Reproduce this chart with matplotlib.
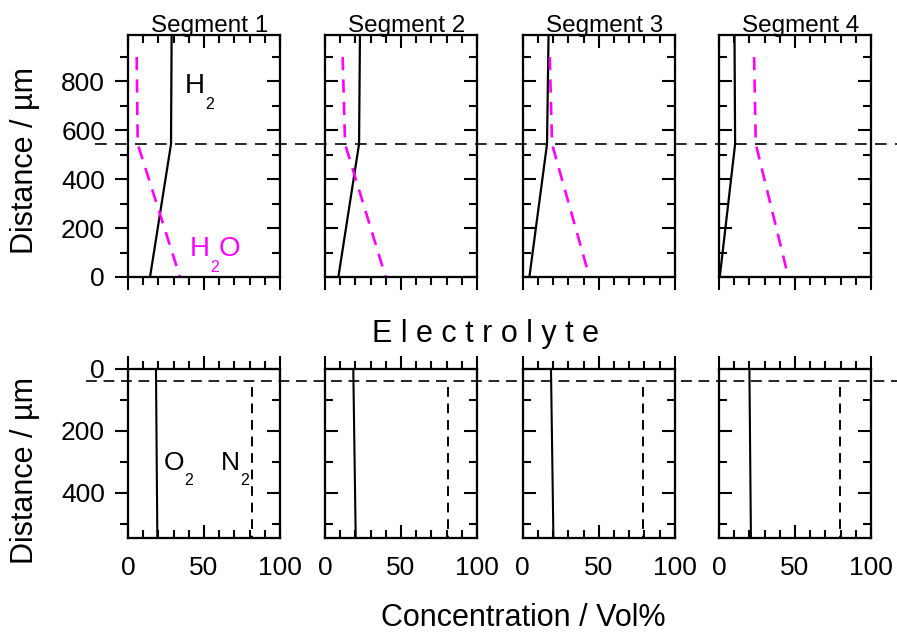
import matplotlib
matplotlib.use("Agg")
import matplotlib.pyplot as plt
from matplotlib.ticker import MultipleLocator, NullFormatter, FixedLocator
from matplotlib import transforms
from matplotlib.lines import Line2D

plt.rcParams['font.family'] = ['Liberation Sans', 'DejaVu Sans']

# ---------------- data ----------------
segments = ["Segment 1", "Segment 2", "Segment 3", "Segment 4"]

# gas diffusion electrode (top row), distance in um (listed from top to bottom)
h2_depth = [990, 544, 0]
h2_conc = [
    [28.7, 28.3, 14.5],
    [23.0, 22.4, 8.8],
    [17.0, 16.0, 4.4],
    [10.2, 10.6, 0.5],
]
h2o_depth = [900, 544, 0]
h2o_conc = [
    [5.7, 6.4, 34.2],
    [11.6, 13.2, 39.9],
    [17.8, 19.3, 43.9],
    [23.1, 24.2, 45.6],
]
gde_interface = 544

# electrolyte side (bottom row), distance in um
o2_depth = [0, 545]
o2_conc = [
    [18.4, 19.3],
    [18.6, 20.2],
    [18.6, 20.2],
    [20.0, 21.0],
]
n2_depth = [58, 545]
n2_conc = [81.4, 80.7, 79.4, 79.8]
ele_interface = 40

x_ticks_major = [0, 50, 100]

# ---------------- layout ----------------
W, H = 897, 632
fig = plt.figure(figsize=(W / 100, H / 100), dpi=100)

lefts = [128, 325, 522.7, 719]
pw = 152
top_y0, top_y1 = 35, 277
bot_y0, bot_y1 = 368.5, 537.7

TICK_FS = 19
LABEL_FS = 22
MAJ, MIN = 9.5, 5.5
TW = 1.5
SPW = 1.5


def px_rect(x0, y0, x1, y1):
    return [x0 / W, 1 - y1 / H, (x1 - x0) / W, (y1 - y0) / H]


def set_locators(axis, major, minor):
    axis.set_major_locator(MultipleLocator(major))
    axis.set_minor_locator(MultipleLocator(minor))


def style_axes(ax, first, top_row, xlim, ylim):
    for s in ax.spines.values():
        s.set_linewidth(SPW)
    ax.set_xlim(*xlim)
    ax.set_ylim(*ylim)
    set_locators(ax.xaxis, 50, 10)
    set_locators(ax.yaxis, 200, 100)

    # top x-axis via twin
    tx = ax.twiny()
    tx.set_xlim(*xlim)
    set_locators(tx.xaxis, 50, 10)
    tx.xaxis.set_major_formatter(NullFormatter())
    # right y-axis via twin
    ty = ax.twinx()
    ty.set_ylim(*ylim)
    set_locators(ty.yaxis, 200, 100)
    ty.yaxis.set_major_formatter(NullFormatter())
    for t in (tx, ty):
        for s in t.spines.values():
            s.set_linewidth(SPW)

    bottom_dir = 'out' if top_row else 'in'
    top_dir = 'in' if top_row else 'out'
    ax.tick_params(axis='x', which='both', bottom=True, top=False, direction=bottom_dir,
                   width=TW, labelbottom=not top_row, labelsize=TICK_FS, pad=13.5)
    tx.tick_params(axis='x', which='both', top=True, bottom=False, direction=top_dir,
                   width=TW, labeltop=False)
    ax.tick_params(axis='y', which='both', left=True, right=False,
                   direction='out' if first else 'in', width=TW, labelleft=first,
                   labelsize=TICK_FS, pad=7)
    ty.tick_params(axis='y', which='both', right=True, left=False, direction='in',
                   width=TW, labelright=False)
    for a in (ax, tx, ty):
        a.tick_params(which='major', length=MAJ)
        a.tick_params(which='minor', length=MIN)
    return tx, ty


def chem_label(ax, x, y, parts, fs, sub_fs, color, sub_drop):
    """parts: list of (text, is_sub)."""
    first_txt, _ = parts[0]
    t = ax.text(x, y, first_txt, fontsize=fs, color=color, va='baseline', ha='left',
                zorder=5)
    prev = t
    for txt, is_sub in parts[1:]:
        if is_sub:
            prev = ax.annotate(txt, xy=(1, 0), xycoords=prev, xytext=(0.3, -sub_drop),
                               textcoords='offset points', fontsize=sub_fs, color=color,
                               va='bottom', ha='left')
        else:
            prev = ax.annotate(txt, xy=(1, 0), xycoords=prev, xytext=(0, sub_drop),
                               textcoords='offset points', fontsize=fs, color=color,
                               va='bottom', ha='left')
    return t


top_axes, bot_axes = [], []
for i in range(4):
    axt = fig.add_axes(px_rect(lefts[i], top_y0, lefts[i] + pw, top_y1))
    style_axes(axt, i == 0, True, (0, 100), (0, 990))
    axt.plot(h2_conc[i], h2_depth, color='black', lw=1.6, solid_joinstyle='round')
    axt.plot(h2o_conc[i], h2o_depth, color='#ff00ff', lw=1.9, dashes=(5, 3.5))
    axt.text(0.54, 1.012, segments[i], transform=axt.transAxes, ha='center',
             va='baseline', fontsize=17.5, zorder=10)
    top_axes.append(axt)

    axb = fig.add_axes(px_rect(lefts[i], bot_y0, lefts[i] + pw, bot_y1))
    style_axes(axb, i == 0, False, (0, 100), (545, 0))
    axb.xaxis.set_major_locator(FixedLocator(x_ticks_major))
    axb.set_xticklabels([str(v) for v in x_ticks_major])
    axb.plot(o2_conc[i], o2_depth, color='black', lw=1.5)
    axb.plot([n2_conc[i]] * 2, n2_depth, color='black', lw=1.4, dashes=(5, 3.5))
    bot_axes.append(axb)

# species labels
chem_label(top_axes[0], 37.5, 753, [("H", False), ("2", True)], 20, 11.5, 'black', 9.5)
chem_label(top_axes[0], 40.5, 87, [("H", False), ("2", True), ("O", False)], 20, 11.5,
           '#ff00ff', 9.5)
chem_label(bot_axes[0], 23.2, 327, [("O", False), ("2", True)], 19, 11.5, 'black', 9)
chem_label(bot_axes[0], 61.2, 327, [("N", False), ("2", True)], 19, 11.5, 'black', 9)

# horizontal interface lines across the figure
tr_top = transforms.blended_transform_factory(fig.transFigure, top_axes[0].transData)
fig.add_artist(Line2D([95 / W, 1.0], [gde_interface, gde_interface], transform=tr_top,
                      color='black', lw=1.2, dashes=(7, 5)))
tr_bot = transforms.blended_transform_factory(fig.transFigure, bot_axes[0].transData)
fig.add_artist(Line2D([86 / W, 1.0], [ele_interface, ele_interface], transform=tr_bot,
                      color='black', lw=1.2, dashes=(6.5, 4)))

# figure texts
fig.text(25 / W, 1 - 160 / H, "Distance / µm", rotation=90, ha='center', va='center',
         fontsize=LABEL_FS)
fig.text(25 / W, 1 - 471 / H, "Distance / µm", rotation=90, ha='center', va='center',
         fontsize=LABEL_FS)
fig.text(485.5 / W, 1 - 341.7 / H, "E l e c t r o l y t e", ha='center', va='baseline',
         fontsize=22)
fig.text(523 / W, 1 - 626 / H, "Concentration / Vol%", ha='center', va='baseline',
         fontsize=LABEL_FS)

fig.savefig("out.png", dpi=100)
